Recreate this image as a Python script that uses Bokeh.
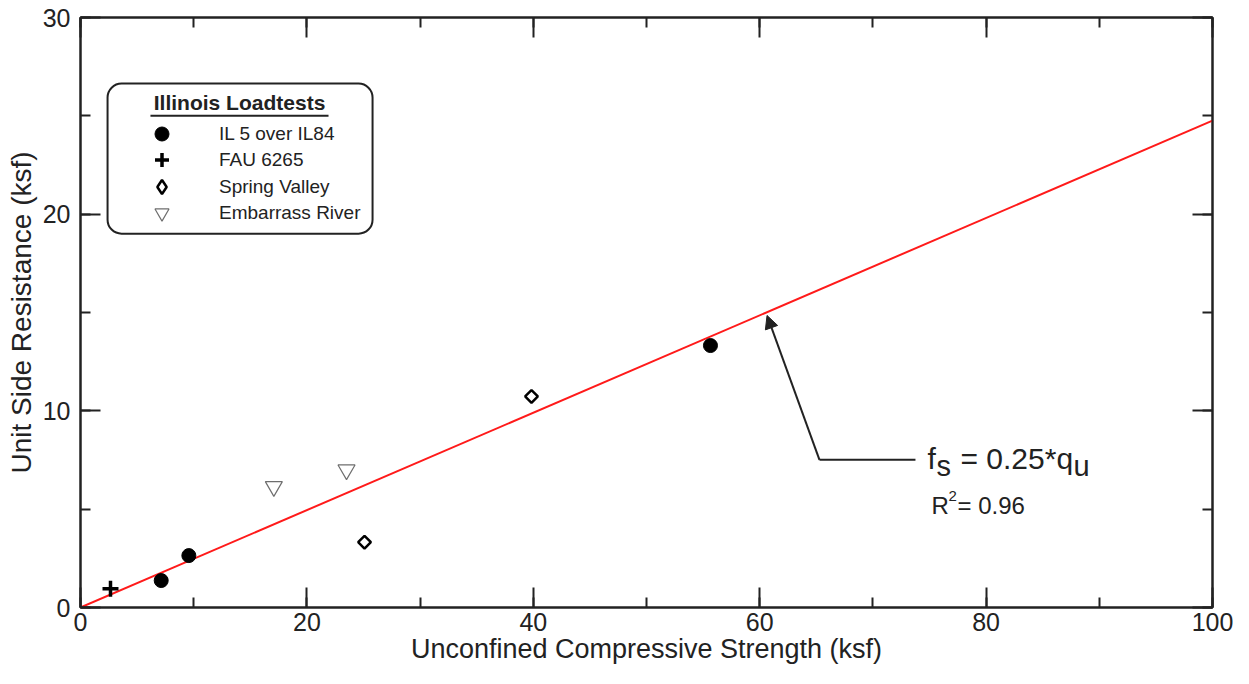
import numpy as np
from bokeh.plotting import figure
from bokeh.models import (LinearAxis, SingleIntervalTicker, Range1d, Legend, LegendItem,
                          BoxAnnotation, Label, Arrow, NormalHead, CustomJSTickFormatter)
from bokeh.embed import file_html
from bokeh.resources import INLINE

# ---- data ----
il5_qu = [7.13, 9.57, 55.65]
il5_fs = [1.37, 2.64, 13.32]
fau_qu = [2.65]
fau_fs = [0.95]
spring_qu = [25.09, 39.84]
spring_fs = [3.32, 10.73]
embarrass_qu = [17.08, 23.5]
embarrass_fs = [6.15, 7.0]
fit_slope = 0.2476
fit_qu = np.array([0.0, 100.0])
fit_fs = fit_slope * fit_qu

series_names = ["IL 5 over IL84", "FAU 6265", "Spring Valley", "Embarrass River"]
x_title = "Unconfined Compressive Strength (ksf)"
y_title = "Unit Side Resistance (ksf)"

FONT = "Liberation Sans"
INK = "#222222"

p = figure(width=1233, height=668, output_backend="svg", toolbar_location=None,
           x_range=Range1d(0, 100), y_range=Range1d(0, 30),
           min_border_left=80, min_border_right=21, min_border_top=17, min_border_bottom=61,
           x_axis_label=x_title, y_axis_label=y_title)
p.xgrid.visible = False
p.ygrid.visible = False
p.outline_line_color = INK
p.outline_line_width = 2
p.background_fill_color = "white"
p.border_fill_color = "white"

xt = SingleIntervalTicker(interval=20, num_minor_ticks=2)
yt = SingleIntervalTicker(interval=10, num_minor_ticks=2)
bottom_ax = p.below[0]
left_ax = p.left[0]
bottom_ax.ticker = xt
left_ax.ticker = yt

blank = CustomJSTickFormatter(code="return ''")
top_ax = LinearAxis(ticker=xt, formatter=blank)
right_ax = LinearAxis(ticker=yt, formatter=blank)
p.add_layout(top_ax, "above")
p.add_layout(right_ax, "right")

for ax in (bottom_ax, left_ax, top_ax, right_ax):
    ax.axis_line_color = INK
    ax.axis_line_width = 2
    ax.major_tick_line_color = INK
    ax.minor_tick_line_color = INK
    ax.major_tick_line_width = 2
    ax.minor_tick_line_width = 2
    ax.major_tick_in = 20
    ax.major_tick_out = 0
    ax.minor_tick_in = 10
    ax.minor_tick_out = 0
    ax.major_label_text_font = FONT
    ax.major_label_text_font_size = "25px"
    ax.major_label_text_color = INK
    ax.axis_label_text_font = FONT
    ax.axis_label_text_font_style = "normal"
    ax.axis_label_text_color = INK

for ax in (top_ax, right_ax):
    ax.major_label_text_font_size = "1px"
    ax.major_label_standoff = 0

bottom_ax.major_label_standoff = 5
bottom_ax.axis_label_standoff = 0
bottom_ax.axis_label_text_font_size = "27px"
left_ax.major_label_standoff = 10
left_ax.axis_label_standoff = 3
left_ax.axis_label_text_font_size = "28px"

# regression line
p.line(fit_qu, fit_fs, line_color="#ff1a1a", line_width=2)

r_il5 = p.scatter(il5_qu, il5_fs, marker="circle", size=14, fill_color="black", line_color="black")
r_fau = p.scatter(fau_qu, fau_fs, marker="cross", size=16, line_color="black", line_width=3.5)
p.scatter(spring_qu, spring_fs, marker="square", angle=np.pi / 4, size=9,
          fill_color="white", line_color="black", line_width=2.5)
# legend-key glyph for Spring Valley (legend keys are drawn unrotated)
r_spr = p.scatter([np.nan], [np.nan], marker="diamond", size=16,
                  fill_color="white", line_color="black", line_width=2.5)
r_emb = p.scatter(embarrass_qu, embarrass_fs, marker="inverted_triangle", size=17,
                  fill_color="white", line_color="#6e6e6e", line_width=1.2)

# legend frame
box = BoxAnnotation(left=2.39, right=25.8, top=26.64, bottom=19.01,
                    fill_color=None, fill_alpha=0, line_color=INK, line_alpha=1,
                    line_width=2, border_radius=14)
p.add_layout(box)

row_y = [456, 430, 403, 377]
for name, rend, ly in zip(series_names, [r_il5, r_fau, r_spr, r_emb], row_y):
    lg = Legend(items=[LegendItem(label=name, renderers=[rend])],
                location=(64, ly), padding=10, spacing=0, glyph_width=35, glyph_height=35,
                label_height=20, label_standoff=40, label_text_font=FONT,
                label_text_font_size="19px", label_text_color=INK,
                border_line_color=None, background_fill_alpha=0)
    p.add_layout(lg)

p.add_layout(Label(x=14.05, y=25.27, y_offset=8, text="Illinois Loadtests", text_align="center",
                   text_baseline="alphabetic", text_font=FONT, text_font_size="21px",
                   text_font_style="bold", text_color=INK))
p.segment(x0=[6.18], y0=[25.01], x1=[21.91], y1=[25.01], line_color=INK, line_width=2)

# annotation arrow
p.segment(x0=[73.76], y0=[7.51], x1=[65.28], y1=[7.51], line_color=INK, line_width=2)
p.add_layout(Arrow(end=NormalHead(size=13, fill_color=INK, line_color=INK),
                   x_start=65.28, y_start=7.51, x_end=60.65, y_end=14.85,
                   line_color=INK, line_width=2))

eq_x, eq_y = 74.82, 7.12
def lab(text, dx, dy, size):
    p.add_layout(Label(x=eq_x, y=eq_y, x_offset=dx, y_offset=dy + 9, text=text,
                       text_font=FONT, text_font_size=size, text_color=INK,
                       text_baseline="alphabetic"))
lab("f", 0, 0, "30px")
lab("s", 9, -8, "29px")
lab("= 0.25*q", 33, 0, "30px")
lab("u", 146, -8, "29px")

r_x, r_y = 75.18, 4.68
def lab2(text, dx, dy, size):
    p.add_layout(Label(x=r_x, y=r_y, x_offset=dx, y_offset=dy + 10, text=text,
                       text_font=FONT, text_font_size=size, text_color=INK,
                       text_baseline="alphabetic"))
lab2("R", 0, 0, "24px")
lab2("2", 17, 9, "15px")
lab2("= 0.96", 26, 0, "24px")

open("out.html", "w").write(file_html(p, INLINE))
